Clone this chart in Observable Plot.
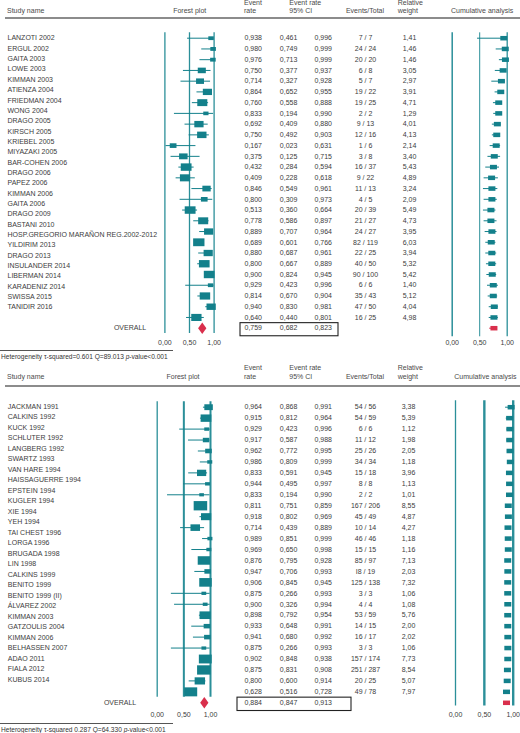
<!DOCTYPE html>
<html>
<head>
<meta charset="utf-8">
<script src="https://cdn.jsdelivr.net/npm/d3@7"></script>
<script src="https://cdn.jsdelivr.net/npm/@observablehq/plot@0.6"></script>
<style>
html,body{margin:0;padding:0;background:#fff;}
#root{position:relative;width:520px;height:733px;overflow:hidden;font-family:"Liberation Sans",Arial,Helvetica,sans-serif;}
.panel{position:absolute;left:0;width:520px;}
.panel svg{position:absolute;left:0;top:0;}
.t{position:absolute;font-size:7px;line-height:8px;height:8px;color:#4a4a4a;white-space:nowrap;}
.c{transform:translateX(-50%);}
.rule{position:absolute;}
.het{position:absolute;font-size:6.6px;line-height:8px;height:8px;color:#333;white-space:nowrap;}
</style>
</head>
<body>
<div id="root"></div>
<script>
// ================= DATA: panel A =================
const studiesA = ["LANZOTI 2002","ERGUL 2002","GAITA 2003","LOWE 2003","KIMMAN 2003","ATIENZA 2004","FRIEDMAN 2004","WONG 2004","DRAGO 2005","KIRSCH 2005","KRIEBEL 2005","MIYAZAKI 2005","BAR-COHEN 2006","DRAGO 2006","PAPEZ 2006","KIMMAN 2006","GAITA 2006","DRAGO 2009","BASTANI 2010","HOSP.GREGORIO MARAÑON REG.2002-2012","YILDIRIM 2013","DRAGO 2013","INSULANDER 2014","LIBERMAN 2014","KARADENIZ 2014","SWISSA 2015","TANIDIR 2016"];
const rateA  = [0.938,0.980,0.976,0.750,0.714,0.864,0.760,0.833,0.692,0.750,0.167,0.375,0.432,0.409,0.846,0.800,0.513,0.778,0.889,0.689,0.880,0.800,0.900,0.929,0.814,0.940,0.640];
const lowerA = [0.461,0.749,0.713,0.377,0.327,0.652,0.558,0.194,0.409,0.492,0.023,0.125,0.284,0.228,0.549,0.309,0.360,0.586,0.707,0.601,0.687,0.667,0.824,0.423,0.670,0.830,0.440];
const upperA = [0.996,0.999,0.999,0.937,0.928,0.955,0.888,0.990,0.880,0.903,0.631,0.715,0.594,0.618,0.961,0.973,0.664,0.897,0.964,0.766,0.961,0.889,0.945,0.996,0.904,0.981,0.801];
const eventsTotalA = ["7 / 7","24 / 24","20 / 20","6 / 8","5 / 7","19 / 22","19 / 25","2 / 2","9 / 13","12 / 16","1 / 6","3 / 8","16 / 37","9 / 22","11 / 13","4 / 5","20 / 39","21 / 27","24 / 27","82 / 119","22 / 25","40 / 50","90 / 100","6 / 6","35 / 43","47 / 50","16 / 25"];
const weightA = [1.41,1.46,1.46,3.05,2.97,3.91,4.71,1.29,4.01,4.13,2.14,3.40,5.43,4.89,3.24,2.09,5.49,4.73,3.95,6.03,3.94,5.32,5.42,1.40,5.12,4.04,4.98];
const cumRateA  = [0.938,0.965,0.968,0.926,0.895,0.883,0.846,0.846,0.821,0.810,0.800,0.765,0.750,0.716,0.722,0.722,0.704,0.704,0.722,0.710,0.720,0.720,0.728,0.747,0.747,0.765,0.759];
const cumLowerA = [0.461,0.800,0.858,0.784,0.720,0.780,0.750,0.755,0.730,0.730,0.690,0.650,0.610,0.580,0.568,0.580,0.568,0.580,0.599,0.611,0.611,0.623,0.630,0.642,0.654,0.673,0.673];
const cumUpperA = [0.996,0.993,0.993,0.975,0.965,0.940,0.915,0.905,0.890,0.875,0.880,0.880,0.860,0.840,0.830,0.820,0.796,0.815,0.815,0.796,0.809,0.809,0.809,0.840,0.827,0.840,0.840];
const overallA = [0.759, 0.682, 0.823];
const hetA = ["τ-squared=0.601", "Q=89.013", "-value<0.001"];

// ================= DATA: panel B =================
const studiesB = ["JACKMAN 1991","CALKINS 1992","KUCK 1992","SCHLUTER 1992","LANGBERG 1992","SWARTZ 1993","VAN HARE 1994","HAISSAGUERRE 1994","EPSTEIN 1994","KUGLER 1994","XIE 1994","YEH 1994","TAI CHEST 1996","LORGA 1996","BRUGADA 1998","LIN 1998","CALKINS 1999","BENITO 1999","BENITO 1999 (II)","ÁLVAREZ 2002","KIMMAN 2003","GATZOULIS 2004","KIMMAN 2006","BELHASSEN 2007","ADAO 2011","FIALA 2012","KUBUS 2014"];
const rateB  = [0.964,0.915,0.929,0.917,0.962,0.986,0.833,0.944,0.833,0.811,0.918,0.714,0.989,0.969,0.876,0.947,0.906,0.875,0.900,0.898,0.933,0.941,0.875,0.902,0.875,0.800,0.628];
const lowerB = [0.868,0.812,0.423,0.587,0.772,0.809,0.591,0.495,0.194,0.751,0.802,0.439,0.851,0.650,0.795,0.706,0.845,0.266,0.326,0.792,0.648,0.680,0.266,0.848,0.831,0.600,0.516];
const upperB = [0.991,0.964,0.996,0.988,0.995,0.999,0.945,0.997,0.990,0.859,0.969,0.889,0.999,0.998,0.928,0.993,0.945,0.993,0.994,0.954,0.991,0.992,0.993,0.938,0.908,0.914,0.728];
const eventsTotalB = ["54 / 56","54 / 59","6 / 6","11 / 12","25 / 26","34 / 34","15 / 18","8 / 8","2 / 2","167 / 206","45 / 49","10 / 14","46 / 46","15 / 15","85 / 97","I8 / 19","125 / 138","3 / 3","4 / 4","53 / 59","14 / 15","16 / 17","3 / 3","157 / 174","251 / 287","20 / 25","49 / 78"];
const weightB = [3.38,5.39,1.12,1.98,2.05,1.18,3.96,1.13,1.01,8.55,4.87,4.27,1.18,1.16,7.13,2.03,7.32,1.06,1.08,5.76,2.00,2.02,1.06,7.73,8.54,5.07,7.97];
const cumRateB  = [0.964,0.938,0.942,0.940,0.945,0.950,0.935,0.937,0.936,0.915,0.917,0.910,0.914,0.915,0.905,0.907,0.905,0.905,0.906,0.905,0.906,0.907,0.907,0.906,0.900,0.896,0.884];
const cumLowerB = [0.868,0.880,0.890,0.890,0.900,0.910,0.890,0.900,0.900,0.870,0.880,0.870,0.875,0.878,0.870,0.872,0.872,0.872,0.874,0.874,0.876,0.877,0.877,0.878,0.873,0.869,0.847];
const cumUpperB = [0.991,0.970,0.972,0.970,0.972,0.975,0.960,0.962,0.960,0.945,0.945,0.940,0.942,0.942,0.933,0.934,0.932,0.932,0.933,0.932,0.933,0.933,0.933,0.931,0.924,0.920,0.913];
const overallB = [0.884, 0.847, 0.913];
const hetB = ["τ-squared 0.287", "Q=64.330", "-value<0.001"];

// ================= LABELS =================
const axisTicks = [0, 0.5, 1];
const overallLabel = "OVERALL";
const hdrStudy = "Study name", hdrForest = "Forest plot", hdrRate = ["Event", "rate"],
      hdrCI = ["Event rate", "95% CI"], hdrEvents = "Events/Total", hdrWeight = ["Relative", "weight"],
      hdrCum = "Cumulative analysis", hetWord = "Heterogeneity";

// ================= STYLE / LAYOUT =================
const TEAL = "#13808b", LINE = "#2b8f99", RED = "#d92f4c", INK = "#3c3c3c";
const LAYOUT = [
  {top:0, h:366, nameX:7, nameY:[37.7,306.7], rowY:[37.7,327.7], hdrY:[2.7,11], ruleY:18.3,
   overallLabelX:145.7, col:{rate:244, low:279.3, high:314, ev:365, w:409, ci:289.3, wh:397.7},
   box:[240,338], forest:[164.4,213.6], cum:[451.7,506.7], forestHdrX:189.7, axisY:342.3,
   footRuleY:350, hetY:356.7, fLine:[-0.5,27.5], cLine:[-0.5,27.8], fW:[1.3,1.3,1.3], cW:[1.5,1,1.3]},
  {top:366, h:367, nameX:7.3, nameY:[40,313], rowY:[40.7,336.3], hdrY:[2.3,10.7], ruleY:19.7,
   overallLabelX:135.7, col:{rate:244, low:279.3, high:314, ev:365, w:408, ci:289.3, wh:397.7},
   box:[237,351], forest:[156.7,210], cum:[455,512.7], forestHdrX:183, axisY:348.3,
   footRuleY:356.7, hetY:364, fLine:[-0.5,26.5], cLine:[-0.6,27.3], fW:[1.3,2,2], cW:[1.3,2.4,2.4]}
];

const loc = d3.formatLocale({decimal: ",", thousands: ".", grouping: [3], currency: ["", ""]});
const f3 = loc.format(".3f"), f2 = loc.format(".2f");

function rectSymbol(aspect) {
  return {draw(ctx, size) {
    const w = Math.sqrt(size * aspect), h = size / w;
    ctx.moveTo(-w/2, -h/2); ctx.lineTo(w/2, -h/2); ctx.lineTo(w/2, h/2); ctx.lineTo(-w/2, h/2); ctx.closePath();
  }};
}
function diamondSymbol(k) {
  return {draw(ctx, size) {
    const a = Math.sqrt(size / (2 * k)), b = k * a;
    ctx.moveTo(-a, 0); ctx.lineTo(0, -b); ctx.lineTo(a, 0); ctx.lineTo(0, b); ctx.closePath();
  }};
}
const baseStyle = {background: "transparent", fontFamily: '"Liberation Sans", Arial, sans-serif', fontSize: "7px", color: INK, overflow: "visible"};

const root = document.getElementById("root");

function addText(parent, txt, x, y, center) {
  const s = document.createElement("div");
  s.className = "t" + (center ? " c" : "");
  s.textContent = txt;
  s.style.left = x + "px"; s.style.top = (y - 4) + "px";
  parent.appendChild(s);
}

function renderPanel(P, L) {
  const div = document.createElement("div");
  div.className = "panel";
  div.style.top = L.top + "px"; div.style.height = L.h + "px";
  root.appendChild(div);

  // headers
  addText(div, hdrStudy, 7, L.hdrY[1]);
  addText(div, hdrForest, L.forestHdrX, L.hdrY[1], true);
  addText(div, hdrRate[0], L.col.rate, L.hdrY[0]); addText(div, hdrRate[1], L.col.rate, L.hdrY[1]);
  addText(div, hdrCI[0], L.col.ci, L.hdrY[0]); addText(div, hdrCI[1], L.col.ci, L.hdrY[1]);
  addText(div, hdrEvents, L.col.ev, L.hdrY[1], true);
  addText(div, hdrWeight[0], L.col.wh, L.hdrY[0]); addText(div, hdrWeight[1], L.col.wh, L.hdrY[1]);
  addText(div, hdrCum, L.cum[0] - 0.7, L.hdrY[1]);
  const hr = document.createElement("div");
  hr.className = "rule";
  Object.assign(hr.style, {left: "5px", width: "515px", top: (L.ruleY - 1) + "px", height: "2px", background: "#8c8c8c"});
  div.appendChild(hr);
  const fr = document.createElement("div");
  fr.className = "rule";
  Object.assign(fr.style, {left: "0px", width: "173px", top: L.footRuleY + "px", height: "1px", background: "#555"});
  div.appendChild(fr);
  const het = document.createElement("div");
  het.className = "het";
  het.style.left = "1px"; het.style.top = (L.hetY - 4) + "px";
  het.innerHTML = `${hetWord} ${P.het[0]} ${P.het[1]} <i>p</i>${P.het[2].replace("<", "&lt;")}`;
  div.appendChild(het);

  const N = P.rate.length;
  const rows = P.rate.map((r, i) => ({i, rate: r, low: P.lower[i], high: P.upper[i], ev: P.evTot[i], w: P.weight[i],
                                      cr: P.cumRate[i], cl: P.cumLower[i], ch: P.cumUpper[i]}));
  const nameRows = P.names.map((n, i) => ({i, name: n}));
  const overallRow = {i: N, rate: P.overall[0], low: P.overall[1], high: P.overall[2]};
  const yRows = {domain: [0, N], range: L.rowY, axis: null};
  const xPix = {domain: [0, 520], range: [0, 520], axis: null};
  const txt = {fill: INK, fontSize: 7};

  // names
  div.appendChild(Plot.plot({
    width: 520, height: L.h, margin: 0, style: baseStyle,
    x: xPix, y: {domain: [0, P.names.length - 1], range: L.nameY, axis: null},
    marks: [Plot.text(nameRows, {x: L.nameX, y: "i", text: "name", textAnchor: "start", ...txt})]
  }));

  // value table
  div.appendChild(Plot.plot({
    width: 520, height: L.h, margin: 0, style: baseStyle, x: xPix, y: yRows,
    marks: [
      Plot.text(rows, {x: L.col.rate, y: "i", text: d => f3(d.rate), textAnchor: "start", ...txt}),
      Plot.text(rows, {x: L.col.low, y: "i", text: d => f3(d.low), textAnchor: "start", ...txt}),
      Plot.text(rows, {x: L.col.high, y: "i", text: d => f3(d.high), textAnchor: "start", ...txt}),
      Plot.text(rows, {x: L.col.ev, y: "i", text: "ev", textAnchor: "middle", ...txt}),
      Plot.text(rows, {x: L.col.w, y: "i", text: d => f2(d.w), textAnchor: "middle", ...txt}),
      Plot.text([overallRow], {x: L.col.rate, y: "i", text: d => f3(d.rate), textAnchor: "start", ...txt}),
      Plot.text([overallRow], {x: L.col.low, y: "i", text: d => f3(d.low), textAnchor: "start", ...txt}),
      Plot.text([overallRow], {x: L.col.high, y: "i", text: d => f3(d.high), textAnchor: "start", ...txt}),
      Plot.text([overallRow], {x: L.overallLabelX, y: "i", text: () => overallLabel, textAnchor: "end", ...txt}),
      Plot.rect([overallRow], {x1: L.box[0], x2: L.box[1], y1: d => d.i - 0.47, y2: d => d.i + 0.75,
                               fill: "none", stroke: "#222", strokeWidth: 1.1})
    ]
  }));

  const axisMB = (h) => h - (L.axisY - 5.5);
  // forest plot
  div.appendChild(Plot.plot({
    width: 520, height: L.h, style: baseStyle,
    marginLeft: L.forest[0], marginRight: 520 - L.forest[1], marginTop: 0, marginBottom: axisMB(L.h),
    x: {domain: [0, 1]}, y: yRows,
    r: {type: "sqrt", domain: [0, 9], range: [0, 6.5]},
    marks: [
      Plot.ruleX(axisTicks, {x: d => d, y1: L.fLine[0], y2: L.fLine[1], stroke: LINE, strokeWidth: (d, i) => L.fW[i]}),
      Plot.ruleY(rows, {y: "i", x1: "low", x2: "high", stroke: TEAL, strokeWidth: 1}),
      Plot.dot(rows, {x: "rate", y: "i", r: "w", symbol: rectSymbol(1.45), fill: TEAL, stroke: "none"}),
      Plot.dot([overallRow], {x: "rate", y: "i", r: 3.9, symbol: diamondSymbol(1.39), fill: RED, stroke: "none"}),
      Plot.axisX(axisTicks, {tickFormat: f2, tickSize: 0, tickPadding: 3, label: null, fontSize: 7, fill: INK})
    ]
  }));

  // cumulative analysis
  div.appendChild(Plot.plot({
    width: 520, height: L.h, style: baseStyle,
    marginLeft: L.cum[0], marginRight: 520 - L.cum[1], marginTop: 0, marginBottom: axisMB(L.h),
    x: {domain: [0, 1]}, y: yRows,
    marks: [
      Plot.ruleX(axisTicks, {x: d => d, y1: L.cLine[0], y2: L.cLine[1], stroke: LINE, strokeWidth: (d, i) => L.cW[i]}),
      Plot.ruleY(rows, {y: "i", x1: "cl", x2: "ch", stroke: TEAL, strokeWidth: 1}),
      Plot.dot(rows, {x: "cr", y: "i", r: 3.17, symbol: rectSymbol(1.55), fill: TEAL, stroke: "none"}),
      Plot.ruleY([overallRow], {y: "i", x1: "low", x2: "high", stroke: RED, strokeWidth: 1}),
      Plot.dot([overallRow], {x: "rate", y: "i", r: 3.17, symbol: rectSymbol(1.55), fill: RED, stroke: "none"}),
      Plot.axisX(axisTicks, {tickFormat: f2, tickSize: 0, tickPadding: 3, label: null, fontSize: 7, fill: INK})
    ]
  }));
}

renderPanel({names: studiesA, rate: rateA, lower: lowerA, upper: upperA, evTot: eventsTotalA, weight: weightA,
             cumRate: cumRateA, cumLower: cumLowerA, cumUpper: cumUpperA, overall: overallA, het: hetA}, LAYOUT[0]);
renderPanel({names: studiesB, rate: rateB, lower: lowerB, upper: upperB, evTot: eventsTotalB, weight: weightB,
             cumRate: cumRateB, cumLower: cumLowerB, cumUpper: cumUpperB, overall: overallB, het: hetB}, LAYOUT[1]);
</script>
</body>
</html>
